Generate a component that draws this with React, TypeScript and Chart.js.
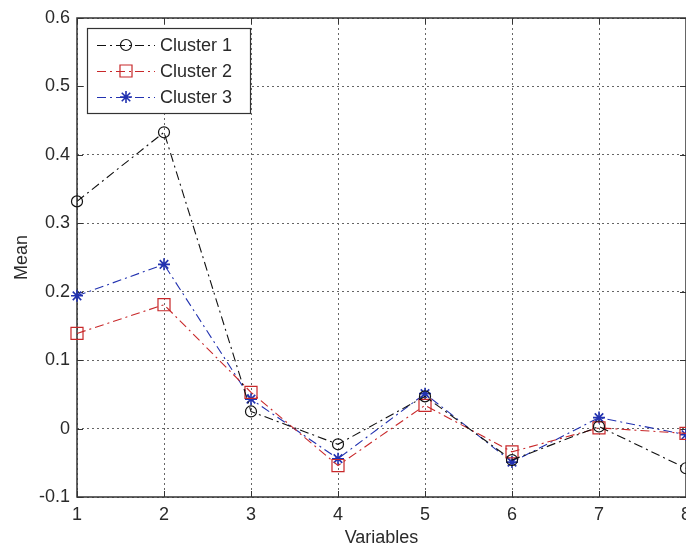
import React, { useEffect, useRef } from "react";
import { Chart, registerables } from "chart.js";

Chart.register(...registerables);

// ---- data ----
const variables = [1, 2, 3, 4, 5, 6, 7, 8];
const seriesNames = ["Cluster 1", "Cluster 2", "Cluster 3"];
const cluster1 = [0.332, 0.433, 0.025, -0.023, 0.047, -0.046, 0.003, -0.058];
const cluster2 = [0.139, 0.181, 0.053, -0.054, 0.034, -0.034, 0.001, -0.007];
const cluster3 = [0.194, 0.240, 0.043, -0.044, 0.051, -0.049, 0.016, -0.009];
const yMin = -0.1;
const yMax = 0.6;
const yStep = 0.1;
const xTitle = "Variables";
const yTitle = "Mean";

const FONT = "'Liberation Sans', Arial, Helvetica, sans-serif";
const TEXT = "#2a2a2a";
const DASHDOT = [9, 4, 2, 4];

const colors = ["#111111", "#c8282a", "#2232b0"];
const markers = ["circle", "rect", "star"];
const radii = [5.5, 8.5, 6];
const values = [cluster1, cluster2, cluster3];

function drawMarker(ctx: CanvasRenderingContext2D, style: string, x: number, y: number, r: number) {
  ctx.beginPath();
  if (style === "circle") {
    ctx.arc(x, y, r, 0, Math.PI * 2);
  } else if (style === "rect") {
    const s = r * Math.SQRT1_2;
    ctx.rect(x - s, y - s, 2 * s, 2 * s);
  } else {
    for (let k = 0; k < 4; k++) {
      const a = (k * Math.PI) / 4;
      ctx.moveTo(x - Math.cos(a) * r, y - Math.sin(a) * r);
      ctx.lineTo(x + Math.cos(a) * r, y + Math.sin(a) * r);
    }
  }
  ctx.stroke();
}

const framePlugin = {
  id: "matlabFrame",
  beforeDatasetsDraw(chart: any) {
    const { ctx, chartArea: a, scales } = chart;
    ctx.save();
    ctx.strokeStyle = "#333";
    ctx.lineWidth = 1.5;
    ctx.setLineDash([]);
    ctx.strokeRect(a.left, a.top, a.right - a.left, a.bottom - a.top);
    ctx.lineWidth = 1;
    const tl = 6;
    ctx.beginPath();
    scales.x.ticks.forEach((t: any) => {
      const px = Math.round(scales.x.getPixelForValue(t.value)) + 0.5;
      ctx.moveTo(px, a.bottom);
      ctx.lineTo(px, a.bottom - tl);
      ctx.moveTo(px, a.top);
      ctx.lineTo(px, a.top + tl);
    });
    scales.y.ticks.forEach((t: any) => {
      const py = Math.round(scales.y.getPixelForValue(t.value)) + 0.5;
      ctx.moveTo(a.left, py);
      ctx.lineTo(a.left + tl, py);
      ctx.moveTo(a.right, py);
      ctx.lineTo(a.right - tl, py);
    });
    ctx.stroke();
    ctx.restore();
  },
};

const legendPlugin = {
  id: "boxLegend",
  afterDraw(chart: any) {
    const { ctx, chartArea: a } = chart;
    const x0 = a.left + 10;
    const y0 = a.top + 10;
    const w = 163;
    const h = 85;
    ctx.save();
    ctx.fillStyle = "#fff";
    ctx.fillRect(x0, y0, w, h);
    ctx.strokeStyle = "#333";
    ctx.lineWidth = 1.2;
    ctx.strokeRect(x0 + 0.5, y0 + 0.5, w, h);
    chart.data.datasets.forEach((ds: any, i: number) => {
      const cy = y0 + 17 + i * 26;
      ctx.strokeStyle = ds.borderColor;
      ctx.lineWidth = 1;
      ctx.setLineDash(ds.borderDash || []);
      ctx.beginPath();
      ctx.moveTo(x0 + 10, cy + 0.5);
      ctx.lineTo(x0 + 68, cy + 0.5);
      ctx.stroke();
      ctx.setLineDash([]);
      ctx.lineWidth = ds.pointBorderWidth || 1;
      drawMarker(ctx, ds.pointStyle, x0 + 39, cy, ds.pointRadius);
      ctx.fillStyle = TEXT;
      ctx.font = `18px ${FONT}`;
      ctx.textAlign = "left";
      ctx.textBaseline = "middle";
      ctx.fillText(ds.label, x0 + 73, cy + 1);
    });
    ctx.restore();
  },
};

const fmtTick = (v: any) => {
  const r = Math.round(Number(v) * 10) / 10;
  return r === 0 ? "0" : String(r);
};

export default function App() {
  const ref = useRef<HTMLCanvasElement | null>(null);

  useEffect(() => {
    if (!ref.current) return;
    const datasets = seriesNames.map((name, i) => ({
      label: name,
      data: variables.map((x, j) => ({ x, y: values[i][j] })),
      borderColor: colors[i],
      backgroundColor: "transparent",
      borderWidth: 1.1,
      borderDash: DASHDOT,
      pointStyle: markers[i],
      pointRadius: radii[i],
      pointBorderColor: colors[i],
      pointBackgroundColor: "transparent",
      pointBorderWidth: i === 2 ? 1.6 : 1.2,
      tension: 0,
      clip: false as any,
    }));

    const chart = new Chart(ref.current, {
      type: "line",
      data: { datasets },
      plugins: [framePlugin, legendPlugin],
      options: {
        animation: false,
        responsive: false,
        devicePixelRatio: 1,
        layout: { padding: { left: 0, right: 34, top: 18, bottom: 0 } },
        plugins: { legend: { display: false }, tooltip: { enabled: false } },
        scales: {
          x: {
            type: "linear",
            min: variables[0],
            max: variables[variables.length - 1],
            afterFit: (s: any) => {
              s.height = 52;
            },
            ticks: {
              stepSize: 1,
              padding: 7,
              color: TEXT,
              font: { family: FONT, size: 18 },
            },
            grid: { color: "#666", lineWidth: 1, drawTicks: false },
            border: { display: false, dash: [2, 3] },
            title: {
              display: true,
              text: xTitle,
              color: TEXT,
              font: { family: FONT, size: 18 },
              padding: { top: 0, bottom: 0 },
            },
          },
          y: {
            type: "linear",
            min: yMin,
            max: yMax,
            afterFit: (s: any) => {
              s.width = 77;
            },
            ticks: {
              stepSize: yStep,
              padding: 7,
              color: TEXT,
              font: { family: FONT, size: 18 },
              callback: fmtTick,
            },
            grid: { color: "#666", lineWidth: 1, drawTicks: false },
            border: { display: false, dash: [2, 3] },
            title: {
              display: true,
              text: yTitle,
              color: TEXT,
              font: { family: FONT, size: 18 },
              padding: { top: 11, bottom: 0 },
            },
          },
        },
      },
    });
    return () => chart.destroy();
  }, []);

  return (
    <div
      style={{
        position: "absolute",
        left: 0,
        top: 0,
        width: 686,
        height: 546,
        overflow: "hidden",
        background: "#fff",
      }}
    >
      <canvas ref={ref} width={720} height={549} style={{ display: "block" }} />
    </div>
  );
}
